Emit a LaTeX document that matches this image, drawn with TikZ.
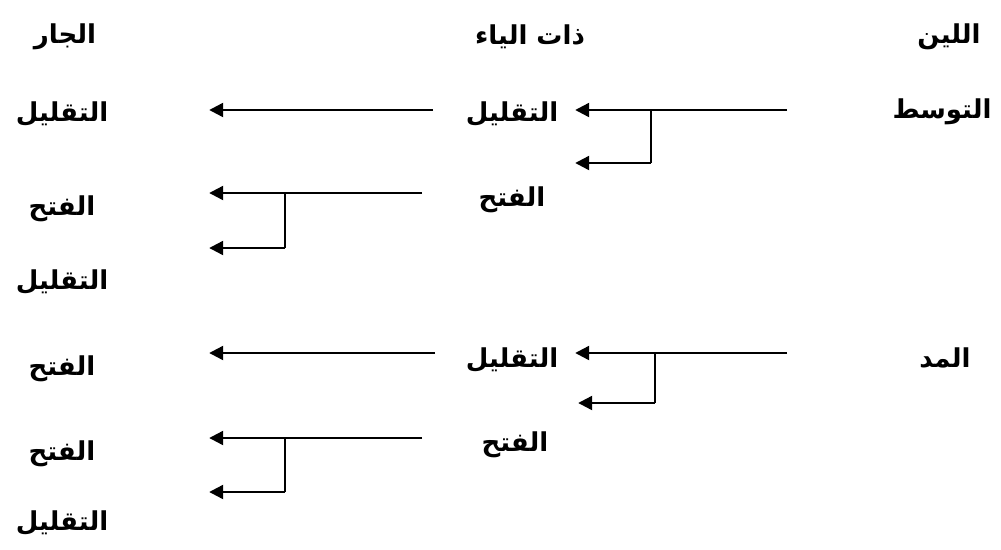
\documentclass[tikz,border=0pt]{standalone}
\usepackage{fontspec}
\usetikzlibrary{arrows.meta}
\TeXXeTstate=1
\newfontfamily\arabicfont[Script=Arabic]{DejaVu Sans}
\begin{document}
\begin{tikzpicture}[x=1pt,y=-1pt,
  lbl/.style={font=\fontsize{26}{30}\selectfont\arabicfont\bfseries, inner sep=0pt, anchor=center},
  midw/.style={lbl, minimum width=126pt},
  leftw/.style={lbl, minimum width=294pt},
  conn/.style={line width=2.3pt, -{Triangle[length=14pt,width=14pt]}},
  vline/.style={line width=1.7pt}]
\useasboundingbox (0,0) rectangle (1001,549);
% headers
\node[lbl] (hL) at (65,37) {\beginR الجار\endR};
\node[lbl] (hM) at (530,37) {\beginR ذات الياء\endR};
\node[lbl] (hR) at (949,37) {\beginR اللين\endR};
% row 1
\node[lbl] (r1) at (942,112) {\beginR التوسط\endR};
\node[midw] (m1) at (512,114) {\beginR التقليل\endR};
\node[midw] (m2) at (512,200) {\beginR الفتح\endR};
\node[leftw] (l1) at (62,114) {\beginR التقليل\endR};
\node[leftw] (l2) at (62,209) {\beginR الفتح\endR};
\node[leftw] (l3) at (62,282) {\beginR التقليل\endR};
\coordinate (s1) at (787,110);
\coordinate (b1) at (651,110);
\coordinate (b1e) at (651,163);
\coordinate (s2) at (433,110);
\coordinate (s3) at (422,193);
\coordinate (b3) at (285,193);
\coordinate (b3e) at (285,248);
\draw[conn] (s1) -- (m1.east |- s1);
\draw[vline] (b1) -- (b1e);
\draw[conn] (b1e) -- (m2.east |- b1e);
\draw[conn] (s2) -- (l1.east |- s2);
\draw[conn] (s3) -- (l2.east |- s3);
\draw[vline] (b3) -- (b3e);
\draw[conn] (b3e) -- (l3.east |- b3e);
% row 2
\node[lbl] (r2) at (945,358) {\beginR المد\endR};
\node[midw] (m3) at (512,360) {\beginR التقليل\endR};
\node[midw] (m4) at (515,445) {\beginR الفتح\endR};
\node[leftw] (l4) at (62,369) {\beginR الفتح\endR};
\node[leftw] (l5) at (62,454) {\beginR الفتح\endR};
\node[leftw] (l6) at (62,523) {\beginR التقليل\endR};
\coordinate (s4) at (787,353);
\coordinate (b4) at (655,353);
\coordinate (b4e) at (655,403);
\coordinate (s5) at (435,353);
\coordinate (s6) at (422,438);
\coordinate (b6) at (285,438);
\coordinate (b6e) at (285,492);
\draw[conn] (s4) -- (m3.east |- s4);
\draw[vline] (b4) -- (b4e);
\draw[conn] (b4e) -- (m4.east |- b4e);
\draw[conn] (s5) -- (l4.east |- s5);
\draw[conn] (s6) -- (l5.east |- s6);
\draw[vline] (b6) -- (b6e);
\draw[conn] (b6e) -- (l6.east |- b6e);
\end{tikzpicture}
\end{document}
